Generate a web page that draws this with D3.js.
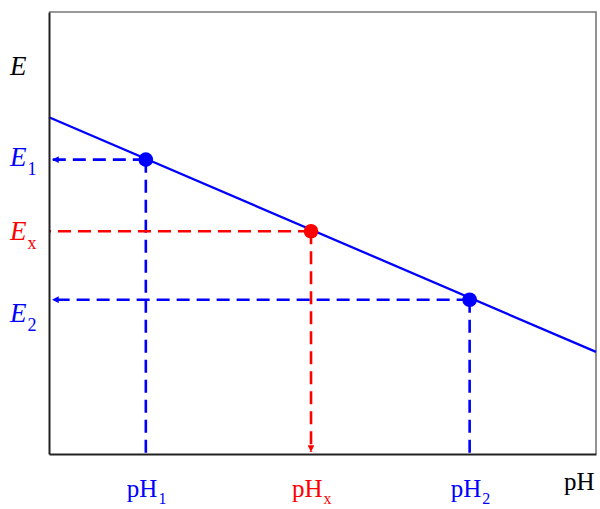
<!DOCTYPE html>
<html>
<head>
<meta charset="utf-8">
<script src="https://cdn.jsdelivr.net/npm/d3@7"></script>
<style>
  body { margin: 0; background: #fff; }
  text { font-family: "Liberation Serif", "DejaVu Serif", serif; }
</style>
</head>
<body>
<div id="chart"></div>
<script>
// Calibration line E vs pH (arbitrary units)
const linePH = [0, 10]
const lineE  = [7.62, 2.31]

// Marked points: two standards (blue) and the unknown (red)
const pointNames = ["1", "x", "2"]
const pointPH    = [1.77, 4.79, 7.69]
const pointE     = [6.66, 5.04, 3.49]
const pointKind  = ["std", "unknown", "std"]

function drawChart(container) {
    const WIDTH = 600
    const HEIGHT = 509
    const PLOT = {LEFT:49, RIGHT:596, TOP:12, BOTTOM:454}
    const BLUE = "#0000ff", RED = "#ff0000"

    let svg = d3.select(container).append("svg")
        .attr("width", WIDTH)
        .attr("height", HEIGHT)

    let xScale = d3.scaleLinear().domain([0, 10]).range([PLOT.LEFT, PLOT.RIGHT])
    let yScale = d3.scaleLinear().domain([0, 10]).range([PLOT.BOTTOM, PLOT.TOP])

    const points = pointNames.map((n, i) => ({name:n, pH:pointPH[i], E:pointE[i], kind:pointKind[i]}))
    const colour = d => d.kind == "unknown" ? RED : BLUE

    // arrow markers
    let defs = svg.append("defs")
    ;[["arrowBlue", BLUE], ["arrowRed", RED]].forEach(([id, c]) => {
        defs.append("marker")
            .attr("id", id)
            .attr("viewBox", "0 0 10 10")
            .attr("refX", 10).attr("refY", 5)
            .attr("markerWidth", 3.4).attr("markerHeight", 2.6)
            .attr("markerUnits", "strokeWidth")
            .attr("orient", "auto")
          .append("path")
            .attr("d", "M0,0 L10,5 L0,10 Z")
            .attr("fill", c)
    })

    // top and right frame (grey)
    svg.append("path")
        .attr("d", `M${PLOT.LEFT},${PLOT.TOP} H${PLOT.RIGHT} V${PLOT.BOTTOM}`)
        .attr("fill", "none").attr("stroke", "#777").attr("stroke-width", 1.6)

    // dashed guides
    points.forEach(d => {
        const px = xScale(d.pH), py = yScale(d.E)
        const c = colour(d)
        // horizontal guide to E axis
        svg.append("line")
            .attr("x1", px).attr("y1", py)
            .attr("x2", d.kind == "std" ? PLOT.LEFT + 3 : PLOT.LEFT).attr("y2", py)
            .attr("stroke", c).attr("stroke-width", 2.6)
            .attr("stroke-dasharray", "13,7")
            .attr("marker-end", d.kind == "std" ? "url(#arrowBlue)" : null)
        // vertical guide to pH axis
        svg.append("line")
            .attr("x1", px).attr("y1", py)
            .attr("x2", px).attr("y2", d.kind == "unknown" ? PLOT.BOTTOM - 2 : PLOT.BOTTOM)
            .attr("stroke", c).attr("stroke-width", 2.6)
            .attr("stroke-dasharray", "13,7")
            .attr("marker-end", d.kind == "unknown" ? "url(#arrowRed)" : null)
    })

    // calibration line
    svg.append("path")
        .datum(linePH.map((p, i) => [p, lineE[i]]))
        .attr("d", d3.line().x(d => xScale(d[0])).y(d => yScale(d[1])))
        .attr("fill", "none").attr("stroke", BLUE).attr("stroke-width", 2.3)

    // points
    svg.selectAll("circle.pt")
        .data(points)
        .enter()
        .append("circle")
            .attr("class", "pt")
            .attr("cx", d => xScale(d.pH))
            .attr("cy", d => yScale(d.E))
            .attr("r", 7.3)
            .attr("fill", colour)

    // left and bottom axes (black, no ticks)
    svg.append("g")
        .attr("transform", "translate(0," + PLOT.BOTTOM + ")")
        .call(d3.axisBottom(xScale).tickValues([]).tickSizeOuter(0))
        .call(g => g.select(".domain").attr("stroke", "#222").attr("stroke-width", 2))
    svg.append("g")
        .attr("transform", "translate(" + PLOT.LEFT + ",0)")
        .call(d3.axisLeft(yScale).tickValues([]).tickSizeOuter(0))
        .call(g => g.select(".domain").attr("stroke", "#222").attr("stroke-width", 2))

    // axis titles
    svg.append("text")
        .attr("x", 10).attr("y", 75)
        .attr("font-size", 27).attr("font-style", "italic")
        .attr("fill", "#000").text("E")
    svg.append("text")
        .attr("x", 564).attr("y", 490)
        .attr("font-size", 25).attr("fill", "#000").text("pH")

    // E labels
    const eLabelDy = [6, 9, 22]
    points.forEach((d, i) => {
        let t = svg.append("text")
            .attr("x", 10).attr("y", yScale(d.E) + eLabelDy[i])
            .attr("fill", colour(d))
        t.append("tspan").attr("font-size", 27).attr("font-style", "italic").text("E")
        t.append("tspan").attr("font-size", 18).attr("dx", 1).attr("dy", 9).text(d.name)
    })

    // pH labels
    points.forEach(d => {
        let t = svg.append("text")
            .attr("x", xScale(d.pH) - 19).attr("y", 497)
            .attr("fill", colour(d))
        t.append("tspan").attr("font-size", 25).text("pH")
        t.append("tspan").attr("font-size", 16).attr("dx", 1).attr("dy", 7).text(d.name)
    })
}

drawChart("#chart")
</script>
</body>
</html>
